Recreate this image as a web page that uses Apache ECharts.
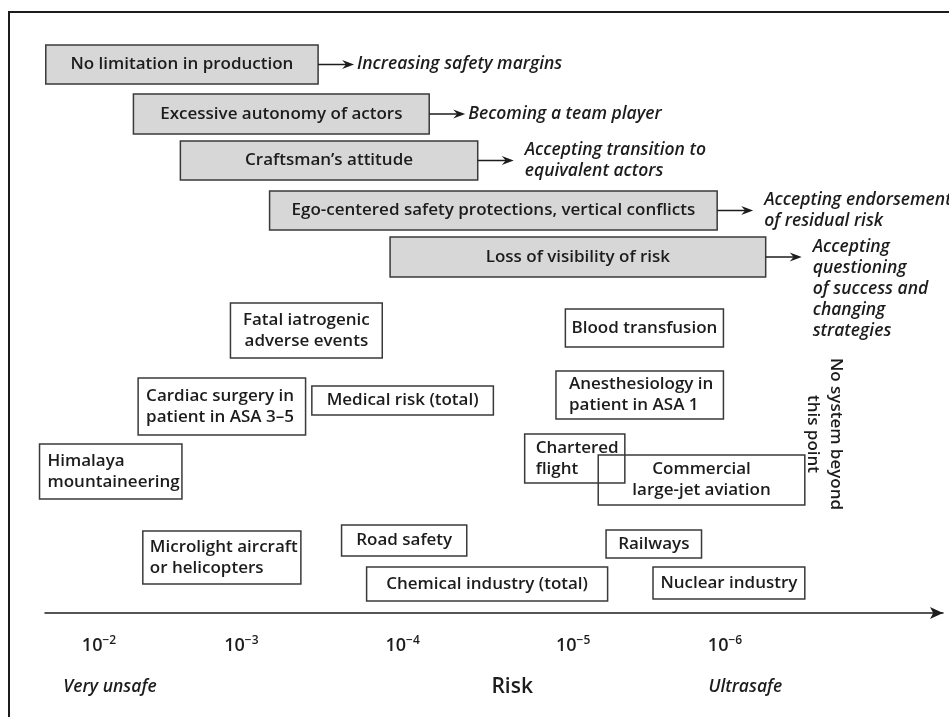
<!DOCTYPE html>
<html>
<head>
<meta charset="utf-8">
<script src="https://cdn.jsdelivr.net/npm/echarts@6/dist/echarts.min.js"></script>
<style>html,body{margin:0;padding:0;background:#fff}#c{width:949px;height:717px}</style>
</head>
<body>
<div id="c"></div>
<script>
// ---- Data (x = decades of risk on the safety scale, y = vertical row level) ----
const tickExponents = [-2, -3, -4, -5, -6];
const tickPositions = [2.0, 2.91, 3.94, 5.03, 6.0];
const scaleWords = ['Very unsafe', 'Risk', 'Ultrasafe'];
const scaleWordPositions = [2.07, 4.64, 6.13];

const barrierNames = ['No limitation in production', 'Excessive autonomy of actors', 'Craftsman\u2019s attitude', 'Ego-centered safety protections, vertical conflicts', 'Loss of visibility of risk'];
const barrierFrom = [1.66, 2.22, 2.52, 3.09, 3.86];
const barrierTo = [3.40, 4.11, 4.42, 5.95, 6.26];
const barrierTop = [568, 519, 472, 422, 376];
const barrierBottom = [529, 479, 433, 383, 336];
const barrierOutcomes = ['Increasing safety margins', 'Becoming a team player', 'Accepting transition to\nequivalent actors', 'Accepting endorsement\nof residual risk', 'Accepting\nquestioning\nof success and\nchanging\nstrategies'];

const activityNames = ['Fatal iatrogenic\nadverse events', 'Blood transfusion', 'Cardiac surgery in\npatient in ASA 3\u20135', 'Medical risk (total)', 'Anesthesiology in\npatient in ASA 1', 'Himalaya\nmountaineering', 'Chartered\nflight', 'Commercial\nlarge-jet aviation', 'Microlight aircraft\nor helicopters', 'Road safety', 'Railways', 'Chemical industry (total)', 'Nuclear industry'];
const activityFrom = [2.84, 4.98, 2.25, 3.36, 4.92, 1.62, 4.72, 5.19, 2.28, 3.55, 5.24, 3.71, 5.54];
const activityTo = [3.81, 5.99, 3.32, 4.52, 5.99, 2.53, 5.36, 6.51, 3.29, 4.35, 5.85, 5.25, 6.51];
const activityTop = [310, 304, 235, 227, 242, 169, 179, 158, 82, 88, 83, 46, 46];
const activityBottom = [255, 266, 178, 198, 194, 114, 130, 108, 29, 57, 55, 12, 14];

const noteText = 'No system beyond\nthis point';
const notePosition = [6.636, 179];

// ---- Styling ----
const FONT = '"Open Sans", "Noto Sans", sans-serif';
const INK = '#1c1c1c';
const BOX_FS = 17;
const IT_FS = 17.5;
const leftAligned = {2: 8, 4: 13, 5: 8, 6: 11, 8: 7};

const barrierData = barrierNames.map((n, i) => [barrierFrom[i], barrierTo[i], barrierTop[i], barrierBottom[i], i]);
const activityData = activityNames.map((n, i) => [activityFrom[i], activityTo[i], activityTop[i], activityBottom[i], i]);

function boxRect(api) {
  const a = api.coord([api.value(0), api.value(2)]);
  const b = api.coord([api.value(1), api.value(3)]);
  return {x: a[0], y: a[1], w: b[0] - a[0], h: b[1] - a[1]};
}

function renderBarrier(params, api) {
  const i = api.value(4);
  const r = boxRect(api);
  const my = r.y + r.h / 2;
  const x2 = r.x + r.w;
  const tip = x2 + 36;
  const outcome = barrierOutcomes[i];
  const multi = outcome.indexOf('\n') >= 0;
  return {
    type: 'group',
    children: [
      {type: 'rect', shape: {x: r.x, y: r.y, width: r.w, height: r.h}, style: {fill: '#d7d7d7', stroke: '#3a3a3a', lineWidth: 1.5}},
      {type: 'text', style: {text: barrierNames[i], x: r.x + r.w / 2, y: my, align: 'center', verticalAlign: 'middle', fontFamily: FONT, fontSize: BOX_FS, fontWeight: 600, fill: INK}},
      {type: 'line', shape: {x1: x2, y1: my, x2: tip - 4, y2: my}, style: {stroke: INK, lineWidth: 1.5}},
      {type: 'polygon', shape: {points: [[tip, my], [tip - 12, my - 4.5], [tip - 8, my], [tip - 12, my + 4.5]]}, style: {fill: INK}},
      {type: 'text', style: {text: outcome, x: tip + (multi ? 11 : 3), y: multi ? my - 20.5 : my, align: 'left', verticalAlign: multi ? 'top' : 'middle', lineHeight: 21, fontFamily: FONT, fontSize: IT_FS, fontWeight: 600, fontStyle: 'italic', fill: INK}}
    ]
  };
}

function renderActivity(params, api) {
  const i = api.value(4);
  const r = boxRect(api);
  const pad = leftAligned[i];
  const left = pad !== undefined;
  return {
    type: 'group',
    children: [
      {type: 'rect', shape: {x: r.x, y: r.y, width: r.w, height: r.h}, style: {fill: 'rgba(255,255,255,0)', stroke: '#3a3a3a', lineWidth: 1.5}},
      {type: 'text', style: {text: activityNames[i], x: left ? r.x + pad : r.x + r.w / 2, y: r.y + r.h / 2, align: left ? 'left' : 'center', verticalAlign: 'middle', lineHeight: 21, fontFamily: FONT, fontSize: BOX_FS, fontWeight: 600, fill: INK}}
    ]
  };
}

function renderNote(params, api) {
  const p = api.coord([api.value(0), api.value(1)]);
  return {type: 'text', x: p[0], y: p[1], rotation: -Math.PI / 2,
    style: {text: noteText, x: 0, y: 0, align: 'center', verticalAlign: 'middle', lineHeight: 23, fontFamily: FONT, fontSize: BOX_FS, fontWeight: 600, fill: INK}};
}

function nearestIndex(arr, v) {
  let best = 0;
  arr.forEach((a, k) => { if (Math.abs(a - v) < Math.abs(arr[best] - v)) best = k; });
  return best;
}

const chart = echarts.init(document.getElementById('c'), null, {renderer: 'canvas'});
chart.setOption({
  animation: false,
  backgroundColor: '#fff',
  grid: {left: 45, right: 6, top: 12, bottom: 104, containLabel: false},
  xAxis: [
    {
      type: 'value', min: 1.655, max: 7.393, position: 'bottom',
      axisLine: {show: true, lineStyle: {color: INK, width: 1.5}, symbol: ['none', 'arrow'], symbolSize: [9, 13]},
      axisTick: {show: false}, splitLine: {show: false},
      axisLabel: {
        customValues: tickPositions, margin: 22, color: INK, fontFamily: FONT, fontSize: 18, fontWeight: 600,
        formatter: v => '{b|10}{s|\u2212' + Math.abs(tickExponents[nearestIndex(tickPositions, v)]) + '}',
        rich: {
          b: {fontFamily: FONT, fontSize: 18, fontWeight: 600, color: INK, lineHeight: 21},
          s: {fontFamily: FONT, fontSize: 12, fontWeight: 600, color: INK, lineHeight: 13, verticalAlign: 'top'}
        }
      }
    },
    {
      type: 'value', min: 1.655, max: 7.393, position: 'bottom',
      axisLine: {show: false}, axisTick: {show: false}, splitLine: {show: false},
      axisLabel: {
        customValues: scaleWordPositions, margin: 62, color: INK, fontFamily: FONT, fontSize: IT_FS, fontWeight: 600,
        formatter: v => { const k = nearestIndex(scaleWordPositions, v); return k === 1 ? '{r|' + scaleWords[k] + '}' : '{i|' + scaleWords[k] + '}'; },
        rich: {i: {fontFamily: FONT, fontSize: IT_FS, fontWeight: 600, fontStyle: 'italic', color: INK, lineHeight: 24}, r: {fontFamily: FONT, fontSize: 21, fontWeight: 600, color: INK, lineHeight: 24}}
      }
    }
  ],
  yAxis: {type: 'value', min: 0, max: 601, show: false},
  series: [
    {type: 'custom', name: 'Barriers', xAxisIndex: 0, renderItem: renderBarrier, data: barrierData, encode: {x: [0, 1], y: [2, 3]}, silent: true},
    {type: 'custom', name: 'Activities', xAxisIndex: 0, renderItem: renderActivity, data: activityData, encode: {x: [0, 1], y: [2, 3]}, silent: true},
    {type: 'custom', name: 'Limit', xAxisIndex: 0, renderItem: renderNote, data: [notePosition], encode: {x: 0, y: 1}, silent: true}
  ],
  graphic: [
    {type: 'polyline', shape: {points: [[949, 12], [9, 12], [9, 717]]}, style: {stroke: INK, lineWidth: 2, fill: null}, silent: true}
  ]
});
</script>
</body>
</html>
